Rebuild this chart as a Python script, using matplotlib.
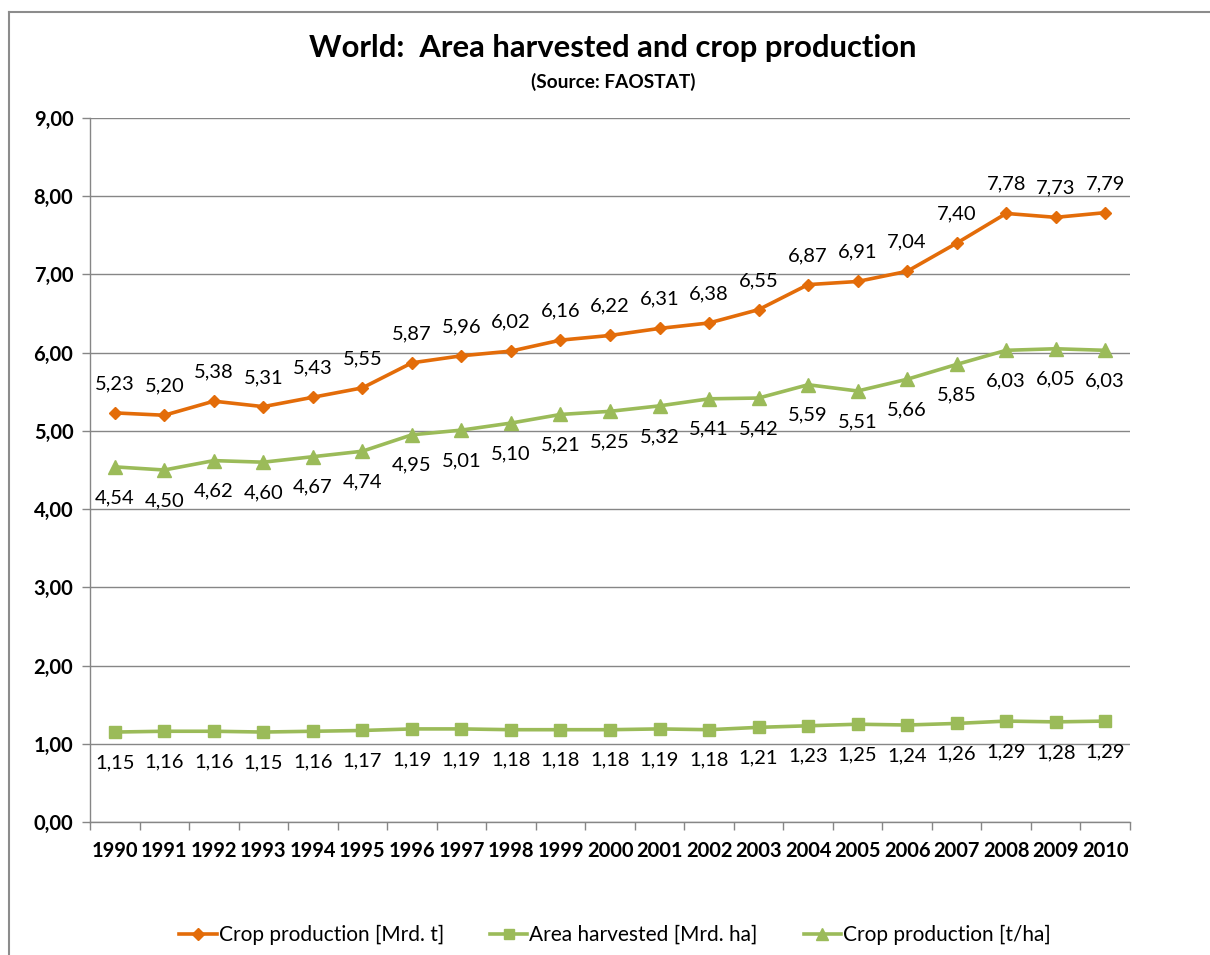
import matplotlib
matplotlib.use("Agg")
import matplotlib.pyplot as plt
from matplotlib.lines import Line2D

plt.rcParams['font.family'] = ['Lato', 'DejaVu Sans']

years = [str(y) for y in range(1990, 2011)]
crop_production = [5.23, 5.20, 5.38, 5.31, 5.43, 5.55, 5.87, 5.96, 6.02, 6.16, 6.22,
                   6.31, 6.38, 6.55, 6.87, 6.91, 7.04, 7.40, 7.78, 7.73, 7.79]
area_harvested = [1.15, 1.16, 1.16, 1.15, 1.16, 1.17, 1.19, 1.19, 1.18, 1.18, 1.18,
                  1.19, 1.18, 1.21, 1.23, 1.25, 1.24, 1.26, 1.29, 1.28, 1.29]
crop_yield = [4.54, 4.50, 4.62, 4.60, 4.67, 4.74, 4.95, 5.01, 5.10, 5.21, 5.25,
              5.32, 5.41, 5.42, 5.59, 5.51, 5.66, 5.85, 6.03, 6.05, 6.03]
series_names = ["Crop production [Mrd. t]", "Area harvested [Mrd. ha]", "Crop production [t/ha]"]
y_ticks = [0, 1, 2, 3, 4, 5, 6, 7, 8, 9]

ORANGE = "#E36C09"
GREEN = "#9BBB59"
GRID = "#868686"

fig = plt.figure(figsize=(12.10, 9.55), dpi=100)
ax = fig.add_axes([90/1210, 1-822/955, 1040/1210, (822-118)/955])

x = list(range(len(years)))
ax.plot(x, crop_production, color=ORANGE, lw=2.6, marker='D', ms=6.5, mec=ORANGE, mfc=ORANGE,
        label=series_names[0], zorder=3)
ax.plot(x, area_harvested, color=GREEN, lw=2.6, marker='s', ms=8, mec=GREEN, mfc=GREEN,
        label=series_names[1], zorder=3)
ax.plot(x, crop_yield, color=GREEN, lw=2.6, marker='^', ms=10, mec=GREEN, mfc=GREEN,
        label=series_names[2], zorder=3)

def fmt(v):
    return f"{v:.2f}".replace('.', ',')

LBL = 14.5
for xi, v in zip(x, crop_production):
    ax.annotate(fmt(v), (xi, v), xytext=(0, 21), textcoords='offset points',
                ha='center', va='center', fontsize=LBL, color='black')
for xi, v in zip(x, crop_yield):
    ax.annotate(fmt(v), (xi, v), xytext=(0, -22), textcoords='offset points',
                ha='center', va='center', fontsize=LBL, color='black')
for xi, v in zip(x, area_harvested):
    ax.annotate(fmt(v), (xi, v), xytext=(0, -22), textcoords='offset points',
                ha='center', va='center', fontsize=LBL, color='black')

ax.set_xlim(-0.5, len(years) - 0.5)
ax.set_ylim(0, 9)
ax.set_yticks(y_ticks)
ax.set_yticklabels([fmt(t) for t in y_ticks], fontsize=14.5, fontweight='bold')
ax.set_xticks(x)
ax.set_xticklabels(years, fontsize=14.5, fontweight='bold')
ax.set_xticks([i - 0.5 for i in range(len(years) + 1)], minor=True)
ax.tick_params(axis='x', which='major', length=0, pad=14)
ax.tick_params(axis='x', which='minor', length=6, color=GRID, width=1)
ax.tick_params(axis='y', length=6, color=GRID, width=1, pad=6)
ax.yaxis.grid(True, color=GRID, lw=1)
ax.set_axisbelow(True)
for s in ['top', 'right']:
    ax.spines[s].set_visible(False)
for s in ['left', 'bottom']:
    ax.spines[s].set_color(GRID)
    ax.spines[s].set_linewidth(1)

fig.text(613/1210, 1-48/955, "World:  Area harvested and crop production", ha='center', va='center',
         fontsize=22.3, fontweight='bold')
fig.text(613/1210, 1-82/955, "(Source: FAOSTAT)", ha='center', va='center',
         fontsize=13.7, fontweight='bold')

handles = [Line2D([], [], color=ORANGE, lw=2.6, marker='D', ms=6),
           Line2D([], [], color=GREEN, lw=2.6, marker='s', ms=7),
           Line2D([], [], color=GREEN, lw=2.6, marker='^', ms=8)]
fig.legend(handles, series_names, loc='center', bbox_to_anchor=(615/1210, 1-935/955), ncol=3,
           frameon=False, fontsize=15, handlelength=1.8, handletextpad=0.1, columnspacing=2.2)

# outer chart border (top and left)
fig.add_artist(Line2D([9/1210, 9/1210], [0, 1-12/955], color='#8C8C8C', lw=1.5, transform=fig.transFigure))
fig.add_artist(Line2D([9/1210, 1], [1-12/955, 1-12/955], color='#8C8C8C', lw=1.5, transform=fig.transFigure))

fig.savefig("out.png", dpi=100)
